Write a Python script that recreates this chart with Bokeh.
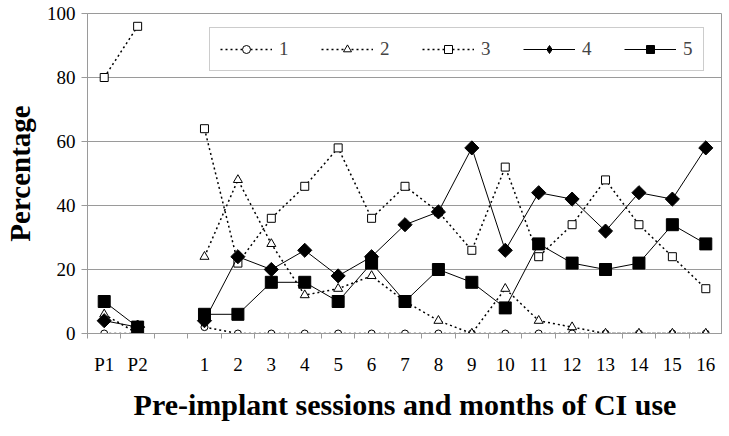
import math
from bokeh.plotting import figure
from bokeh.models import FixedTicker, Legend, LegendItem, Range1d
from bokeh.embed import file_html
from bokeh.resources import INLINE

nan = math.nan

# categories: two pre-implant sessions, an empty gap slot, then months 1..16
categories = ["P1", "P2", ""] + [str(m) for m in range(1, 17)]
x_pos = list(range(len(categories)))

s1 = [0, 0, nan, 2, 0, 0, 0, 0, 0, 0, 0, 0, 0, 0, 0, 0, 0, 0, 0]
s2 = [6, 0, nan, 24, 48, 28, 12, 14, 18, 10, 4, 0, 14, 4, 2, 0, 0, 0, 0]
s3 = [80, 96, nan, 64, 22, 36, 46, 58, 36, 46, 38, 26, 52, 24, 34, 48, 34, 24, 14]
s4 = [4, 2, nan, 4, 24, 20, 26, 18, 24, 34, 38, 58, 26, 44, 42, 32, 44, 42, 58]
s5 = [10, 2, nan, 6, 6, 16, 16, 10, 22, 10, 20, 16, 8, 28, 22, 20, 22, 34, 28]
series_names = ["1", "2", "3", "4", "5"]
y_ticks = [0, 20, 40, 60, 80, 100]
y_tick_labels = ["0", "20", "40", "60", "80", "100"]

FONT_B = "Liberation Serif"
FONT = "Times New Roman"
GRAY = "#9a9a9a"

p = figure(frame_width=635, frame_height=320, output_backend="svg",
           toolbar_location=None, x_range=Range1d(-0.5, len(categories) - 0.5),
           y_range=Range1d(0, 100), min_border_left=78, min_border_right=0,
           min_border_top=13, min_border_bottom=90)
p.outline_line_color = GRAY
p.outline_line_width = 1

# axes
xt = FixedTicker(ticks=[i for i, c in enumerate(categories) if c != ""],
                 minor_ticks=[i - 0.5 for i in range(len(categories) + 1)])
p.xaxis.ticker = xt
p.xaxis.major_label_overrides = {i: c for i, c in enumerate(categories) if c != ""}
p.xaxis.major_tick_line_color = None
p.xaxis.major_tick_out = 0
p.xaxis.major_tick_in = 0
p.xaxis.minor_tick_line_color = GRAY
p.xaxis.minor_tick_out = 5
p.xaxis.minor_tick_in = 0
p.xaxis.axis_line_color = GRAY
p.xaxis.major_label_standoff = 15
p.xaxis.major_label_text_font = FONT
p.xaxis.major_label_text_font_size = "19px"
p.xaxis.major_label_text_color = "black"
p.xaxis.axis_label = "Pre-implant sessions and months of CI use"
p.xaxis.axis_label_text_font = FONT_B
p.xaxis.axis_label_text_font_size = "30px"
p.xaxis.axis_label_text_font_style = "bold"
p.xaxis.axis_label_text_color = "black"
p.xaxis.axis_label_standoff = 10

p.yaxis.ticker = FixedTicker(ticks=y_ticks)
p.yaxis.major_label_overrides = dict(zip(y_ticks, y_tick_labels))
p.yaxis.axis_line_color = GRAY
p.yaxis.major_tick_line_color = GRAY
p.yaxis.major_tick_out = 6
p.yaxis.major_tick_in = 0
p.yaxis.minor_tick_line_color = None
p.yaxis.major_label_standoff = 6
p.yaxis.major_label_text_font = FONT
p.yaxis.major_label_text_font_size = "19px"
p.yaxis.major_label_text_color = "black"
p.yaxis.axis_label = "Percentage"
p.yaxis.axis_label_text_font = FONT_B
p.yaxis.axis_label_text_font_size = "29px"
p.yaxis.axis_label_text_font_style = "bold"
p.yaxis.axis_label_text_color = "black"
p.yaxis.axis_label_standoff = 8

p.xgrid.grid_line_color = None
p.ygrid.grid_line_color = GRAY
p.ygrid.grid_line_width = 1

items = []
specs = [
    (s1, "2 3", 1.5, "circle", 7, "white"),
    (s2, "2 3", 1.5, "triangle", 9, "white"),
    (s3, "2 3", 1.5, "square", 8, "white"),
    (s4, "solid", 1, "diamond4", 10, "black"),
    (s5, "solid", 1, "square", 12, "black"),
]
for name, (vals, dash, lw, marker, size, fill) in zip(series_names, specs):
    ln = p.line(x_pos, vals, line_color="black", line_width=lw, line_dash=dash)
    if marker == "diamond4":
        sc = p.scatter(x_pos, vals, marker="square", size=size, angle=math.pi / 4,
                       fill_color=fill, line_color="black", line_width=1)
        proxy = p.scatter(x_pos, vals, marker="diamond", size=size, fill_color=fill,
                          line_color="black", line_width=1, visible=False)
        items.append(LegendItem(label=name, renderers=[ln, proxy]))
    else:
        sc = p.scatter(x_pos, vals, marker=marker, size=size, fill_color=fill,
                       line_color="black", line_width=1)
        items.append(LegendItem(label=name, renderers=[ln, sc]))

legend = Legend(items=items, orientation="horizontal", location=(122, 262),
                label_text_font=FONT, label_text_font_size="19px",
                glyph_width=52, glyph_height=20, label_standoff=7, spacing=32,
                label_width=10, padding=10, margin=0, border_line_color=GRAY,
                border_line_width=1, background_fill_color="white",
                background_fill_alpha=1)
p.add_layout(legend, "center")

open("out.html", "w").write(file_html(p, INLINE))
